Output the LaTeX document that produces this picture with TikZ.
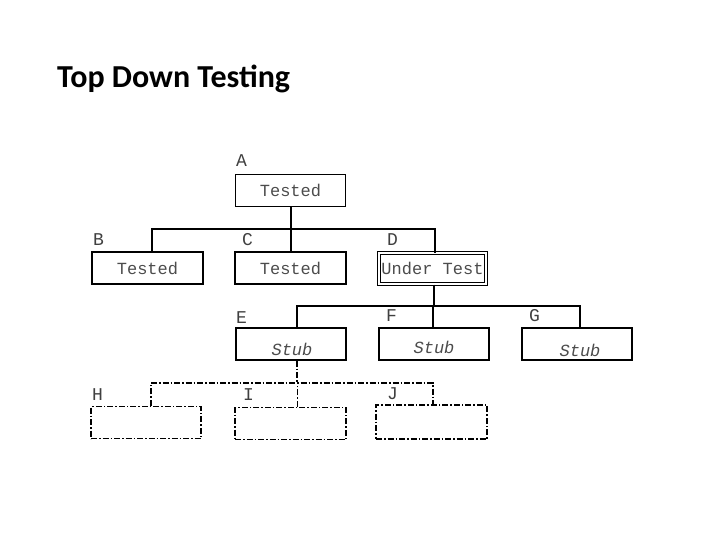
\documentclass[tikz,border=0pt]{standalone}
\usepackage{fontspec}
\setmainfont{Carlito}
\newfontfamily\monof{Liberation Mono}
\newfontfamily\titlef{Carlito}
\begin{document}
\begin{tikzpicture}[x=1pt,y=-1pt,
  box/.style={draw=black, line width=1.4pt, rectangle, minimum width=110pt, minimum height=32pt, inner sep=0pt, anchor=center, text=black!70, font=\monof\fontsize{17}{17}\selectfont},
  dbox/.style={box, double=white, double distance=1.2pt, line width=1pt},
  dashbox/.style={box, line width=1.3pt, dash pattern=on 6pt off 2pt on 1.5pt off 2pt},
  lbl/.style={anchor=west, inner sep=0pt, text=black!75, font=\monof\fontsize{18}{18}\selectfont},
  stub/.style={inner sep=0pt, text=black!70, font=\monof\itshape\fontsize{17}{17}\selectfont},
  thick1/.style={line width=2pt},
  thin1/.style={line width=1.1pt},
  dd/.style={line width=1.3pt, dash pattern=on 6pt off 2pt on 1.5pt off 2pt}
]
\useasboundingbox (0,0) rectangle (720,540);
\node[anchor=base west, inner sep=0pt, font=\titlef\bfseries\fontsize{32}{32}\selectfont] (title) at (57,88) {Top Down Testing};

% level 1
\node[box] (A) at (290.5,190.5) {Tested};
\node[lbl] (lA) at (236,161) {A};
% level 2
\node[box, minimum width=111pt] (B) at (147.5,268) {Tested};
\node[box, minimum width=111pt] (C) at (290.5,268) {Tested};
\node[dbox, minimum width=107pt, minimum height=31pt] (D) at (432.5,268.5) {Under Test};
\node[lbl] (lB) at (93,240) {B};
\node[lbl] (lC) at (242,240) {C};
\node[lbl] (lD) at (387,240) {D};
% level 3
\node[box] (E) at (291,344) {};
\node[box] (F) at (434,344) {};
\node[box] (G) at (577,344) {};
\node[stub] (sE) at (292,349) {Stub};
\node[stub] (sF) at (434,347) {Stub};
\node[stub] (sG) at (580,350) {Stub};
\node[lbl] (lE) at (236,318) {E};
\node[lbl] (lF) at (386,316) {F};
\node[lbl] (lG) at (529,316) {G};
% level 4
\node[dashbox] (H) at (146,422.5) {};
\node[dashbox, minimum width=111pt] (I) at (290.5,423.5) {};
\node[dashbox, minimum width=111pt, minimum height=34pt] (J) at (431.5,422) {};
\node[lbl] (lH) at (92,395) {H};
\node[lbl] (lI) at (243,395) {I};
\node[lbl] (lJ) at (387,394) {J};

% connectors level 1-2
\coordinate (bar1) at (0,229);
\draw[thick1] (A.south) -- (A.south |- bar1);
\draw[thick1] ([xshift=4.5pt]B.north) -- ([xshift=4.5pt]B.north |- bar1) -- ([xshift=2.5pt]D.north |- bar1) -- ([xshift=2.5pt]D.north);
\draw[thick1] (C.north) -- (C.north |- bar1);
% level 2-3
\coordinate (bar2) at (0,306);
\draw[thin1] ([xshift=1.5pt]D.south) -- ([xshift=1.5pt]D.south |- bar2);
\draw[thin1] ([xshift=6pt]E.north) -- ([xshift=6pt]E.north |- bar2) -- ([xshift=3pt]G.north |- bar2) -- ([xshift=3pt]G.north);
\draw[thin1] ([xshift=-1pt]F.north) -- ([xshift=-1pt]F.north |- bar2);
% level 3-4
\coordinate (bar3) at (0,383);
\draw[dd] ([xshift=6pt]E.south) -- ([xshift=6pt]E.south |- bar3);
\draw[dd] ([xshift=5pt]H.north) -- ([xshift=5pt]H.north |- bar3) -- ([xshift=1.5pt]J.north |- bar3) -- ([xshift=1.5pt]J.north);
\draw[dd] ([xshift=7pt]I.north) -- ([xshift=7pt]I.north |- bar3);
\end{tikzpicture}
\end{document}
